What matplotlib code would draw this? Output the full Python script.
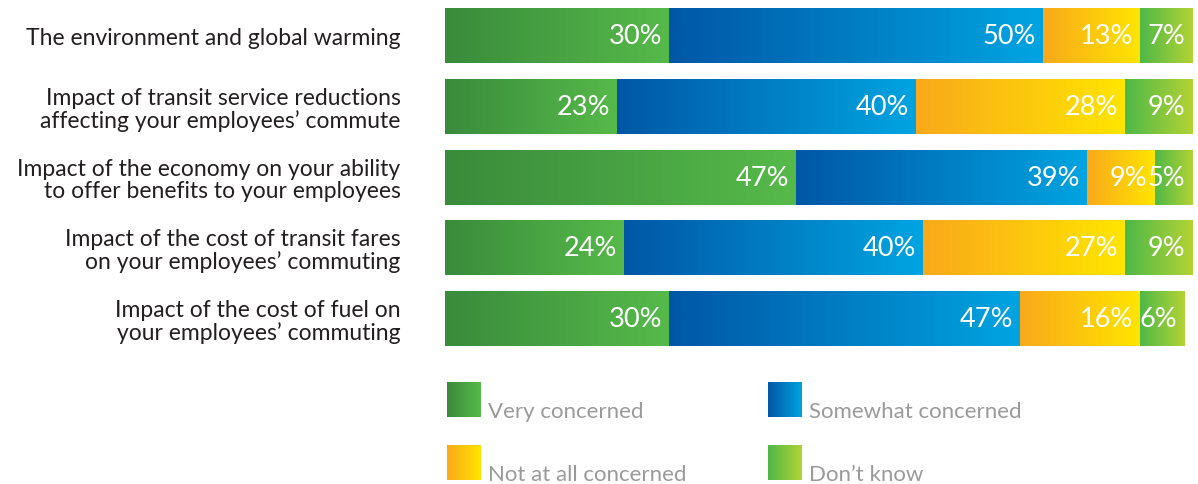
import numpy as np
import matplotlib
matplotlib.use('Agg')
import matplotlib.pyplot as plt
from matplotlib.colors import LinearSegmentedColormap

# Survey topics, top to bottom
topics = ['The environment and global warming',
          'Impact of transit service reductions\naffecting your employees\u2019 commute',
          'Impact of the economy on your ability\nto offer benefits to your employees',
          'Impact of the cost of transit fares\non your employees\u2019 commuting',
          'Impact of the cost of fuel on\nyour employees\u2019 commuting']

series = ['Very concerned', 'Somewhat concerned',
          'Not at all concerned', 'Don\u2019t know']

very = [30, 23, 47, 24, 30]
somewhat = [50, 40, 39, 40, 47]
not_at_all = [13, 28, 9, 27, 16]
dont_know = [7, 9, 5, 9, 6]

# Left-to-right gradient endpoints for each response
grads = [('#3a8b3b', '#56ba4a'),
         ('#0057a6', '#00a4e1'),
         ('#f9a91b', '#ffe500'),
         ('#4fb848', '#b3d334')]

plt.rcParams['font.family'] = ['Lato', 'DejaVu Sans']

fig = plt.figure(figsize=(11.98, 4.85), dpi=100)
W, H = 1198, 485

# Bar area, spanning the full height; row i is centred at 36.5 + 70.75*i px
ax = fig.add_axes([445 / W, 0, 747 / W, 1])
ax.patch.set_visible(False)
row_px, top_px = 70.75, 36.5
y_top = -top_px / row_px
y_bot = (H - top_px) / row_px
bar_h = 55 / row_px

ramp = np.linspace(0, 1, 256).reshape(1, -1)
cmaps = [LinearSegmentedColormap.from_list('g%d' % i, c) for i, c in enumerate(grads)]

values = [very, somewhat, not_at_all, dont_know]
for row in range(len(topics)):
    left = 0
    for k, vals in enumerate(values):
        v = vals[row]
        ax.imshow(ramp, cmap=cmaps[k], aspect='auto', interpolation='bilinear',
                  extent=[left, left + v, row + bar_h / 2, row - bar_h / 2])
        ax.annotate('%d%%' % v, xy=(left + v, row), xytext=(-5, 0),
                    textcoords='offset points', ha='right', va='center',
                    color='white', fontsize=19.5)
        left += v

ax.set_xlim(0, 100)
ax.set_ylim(y_bot, y_top)
ax.set_yticks(range(len(topics)))
ax.set_yticklabels(topics, fontsize=16.5, color='#231f20', linespacing=1.05)
ax.tick_params(axis='y', length=0, pad=32)
ax.set_xticks([])
for s in ax.spines.values():
    s.set_visible(False)

# Legend drawn in pixel coordinates
lg = fig.add_axes([0, 0, 1, 1])
lg.patch.set_visible(False)
lg.set_xlim(0, W)
lg.set_ylim(H, 0)
lg.axis('off')
spots = [(447, 383), (768, 383), (447, 446), (768, 446)]
for k, (x0, y0) in enumerate(spots):
    lg.imshow(ramp, cmap=cmaps[k], aspect='auto', interpolation='bilinear',
              extent=[x0, x0 + 34, y0 + 35, y0])
    lg.text(x0 + 41, y0 + 35, series[k], ha='left', va='baseline',
            fontsize=16, color='#9a9a9a')
lg.set_xlim(0, W)
lg.set_ylim(H, 0)

fig.savefig('out.png', dpi=100)
